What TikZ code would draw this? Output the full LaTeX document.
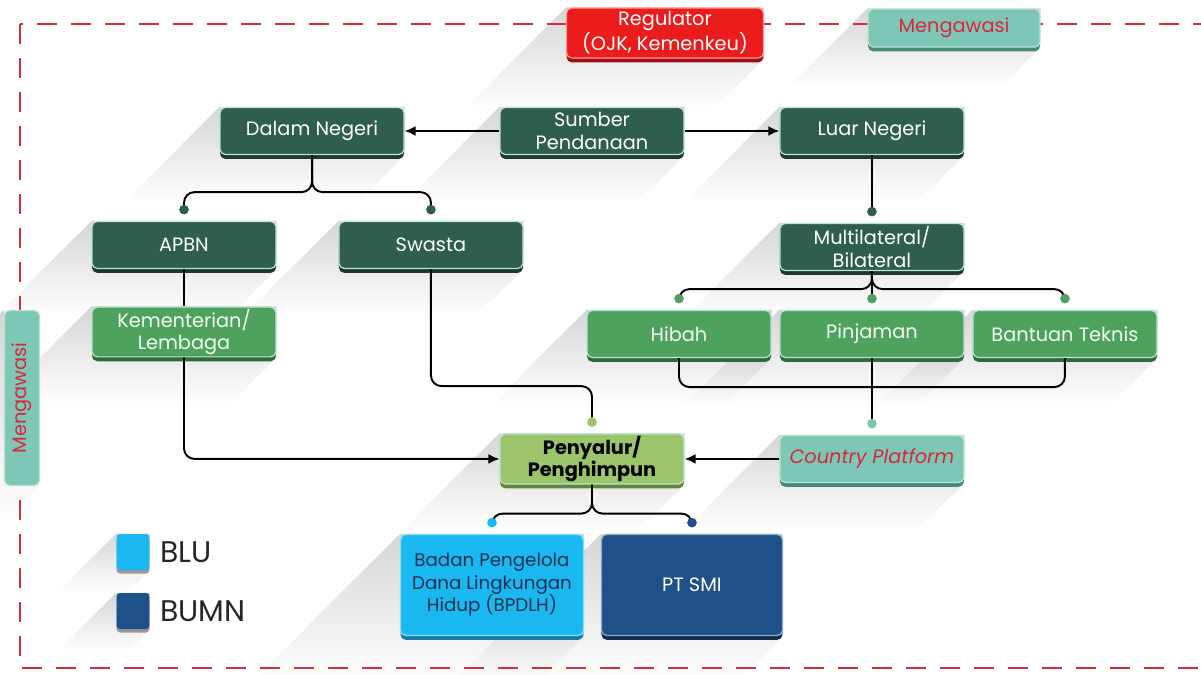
\documentclass[tikz,border=0pt]{standalone}
\usepackage{fontspec}
\setmainfont{Poppins}
\usetikzlibrary{arrows.meta,positioning,shadows,backgrounds,calc,fadings}

\definecolor{darkgreen}{HTML}{2F5E50}
\definecolor{darkgreenshade}{HTML}{1C3830}
\definecolor{midgreen}{HTML}{4FA15E}
\definecolor{midgreenshade}{HTML}{2E6A3A}
\definecolor{lightgreen}{HTML}{9CC46B}
\definecolor{lightgreenshade}{HTML}{5E8738}
\definecolor{tealbox}{HTML}{7EC6B6}
\definecolor{tealshade}{HTML}{4A8A7D}
\definecolor{redbox}{HTML}{EC1C1C}
\definecolor{redshade}{HTML}{A00E12}
\definecolor{redtext}{HTML}{D7263D}
\definecolor{blubox}{HTML}{1AB8F0}
\definecolor{blushade}{HTML}{127CA6}
\definecolor{bumnbox}{HTML}{1E5089}
\definecolor{bumnshade}{HTML}{112E52}
\definecolor{navytext}{HTML}{1B3050}
\definecolor{edge}{HTML}{B9E3D2}
\definecolor{dashred}{HTML}{D32F3A}

\begin{document}
\begin{tikzpicture}[
  x = 0.02cm, y = -0.02cm,
  node distance = 5.6cm,
  block/.style={rectangle, align=center, text centered, rounded corners=3pt, draw=edge, line width=0.7pt,
    minimum height = 0.94cm, minimum width = 3.68cm, inner sep=1pt, font=\fontsize{11}{13}\selectfont},
  block_dark/.style={block, fill=darkgreen, text=white,
    drop shadow={shadow xshift=0pt, shadow yshift=-2.5pt, fill=darkgreenshade, opacity=1}},
  block_green/.style={block, fill=midgreen, text=green!5,
    drop shadow={shadow xshift=0pt, shadow yshift=-2.5pt, fill=midgreenshade, opacity=1}},
  block_light/.style={block, fill=lightgreen, text=black, font=\fontsize{11}{13}\selectfont\bfseries,
    drop shadow={shadow xshift=0pt, shadow yshift=-2.5pt, fill=lightgreenshade, opacity=1}},
  watch_box/.style={block, fill=tealbox, text=redtext},
  block_teal/.style={watch_box,
    drop shadow={shadow xshift=0pt, shadow yshift=-2.5pt, fill=tealshade, opacity=1}},
  block_red/.style={block, fill=redbox, draw=red!40, text=white, minimum width=3.94cm, minimum height=1cm,
    drop shadow={shadow xshift=0pt, shadow yshift=-2.5pt, fill=redshade, opacity=1}},
  block_blu/.style={block, fill=blubox, draw=blubox!50, text=navytext, minimum width=3.66cm, minimum height=2.02cm,
    font=\fontsize{10.4}{12.8}\selectfont,
    drop shadow={shadow xshift=0pt, shadow yshift=-2.5pt, fill=blushade, opacity=1}},
  block_bumn/.style={block, fill=bumnbox, draw=bumnbox!50, text=white, minimum width=3.62cm, minimum height=2.02cm,
    drop shadow={shadow xshift=0pt, shadow yshift=-2.5pt, fill=bumnshade, opacity=1}},
  key/.style={rectangle, rounded corners=2pt, minimum width=0.66cm, minimum height=0.72cm, inner sep=0pt,
    drop shadow={shadow xshift=0pt, shadow yshift=-2pt, fill=black!40, opacity=1}},
  key_text/.style={inner sep=0pt, text=black!85, font=\fontsize{17}{20}\selectfont},
  long_shadow/.style={fill=black, fill opacity=0.16, path fading=south},
  line/.style={draw, line width=1.1pt, rounded corners=6pt},
  arrow/.style={line, -{Latex[length=0.22cm, width=0.2cm]}},
  dot/.style={line, -{Circle[length=0.19cm, color=#1]}, shorten >=0.13cm},
  border/.style={draw=dashred, line width=1.4pt, dash pattern=on 0.4cm off 0.28cm}
  ]

\useasboundingbox (0,0) rectangle (1201,674);
\path [border] (20,24) rectangle (1230,668);

\node [block_red] (regulator) at (665,33) {Regulator\\(OJK, Kemenkeu)};
\node [block_teal, minimum width=3.44cm, minimum height=0.76cm] (watch_top) at (954,28) {Mengawasi};
\node [watch_box, rotate=90, minimum width=3.5cm, minimum height=0.7cm] (watch_left) at (22,398) {Mengawasi};

\node [block_dark] (sumber) at (592,131) {Sumber\\Pendanaan};
\node [block_dark, left of=sumber] (dalam) {Dalam Negeri};
\node [block_dark, right of=sumber] (luar) {Luar Negeri};
\node [block_dark, below of=luar, node distance=2.32cm] (multi) {Multilateral/\\Bilateral};
\node [block_dark] (apbn) at (184,245) {APBN};
\node [block_dark, right of=apbn, node distance=4.94cm] (swasta) {Swasta};
\node [block_green, below of=apbn, node distance=1.74cm] (kementerian) {Kementerian/\\Lembaga};
\node [block_green, below of=multi, node distance=1.74cm] (pinjaman) {Pinjaman};
\node [block_green, left of=pinjaman, node distance=3.86cm] (hibah) {Hibah};
\node [block_green, right of=pinjaman, node distance=3.86cm] (bantuan) {Bantuan Teknis};
\node [block_teal, below of=pinjaman, node distance=2.5cm, font=\fontsize{11}{13}\selectfont\itshape] (country) {Country Platform};
\node [block_light, left of=country] (penyalur) {Penyalur/\\Penghimpun};
\node [block_blu] (bpdlh) at (492,585) {Badan Pengelola\\Dana Lingkungan\\Hidup (BPDLH)};
\node [block_bumn, right of=bpdlh, node distance=4cm] (ptsmi) {PT SMI};

% legend
\node [key, fill=blubox] (key_blu) at (133,552) {};
\node [key_text, right=0.2cm of key_blu] (blu_text) {BLU};
\node [key, fill=bumnbox] (key_bumn) at (133,611) {};
\node [key_text, right=0.2cm of key_bumn] (bumn_text) {BUMN};

% long shadows
\begin{scope}[on background layer]
\foreach \n/\l in {regulator/50, watch_top/40, sumber/48, dalam/48, luar/48, multi/48, apbn/47, swasta/47,
    kementerian/47, hibah/47, pinjaman/47, bantuan/47, country/47, penyalur/47, bpdlh/48, ptsmi/48,
    key_blu/22, key_bumn/22}
  \fill [long_shadow] (\n.north west) -- ($(\n.south west)!1!90:(\n.north west) + (-\l,\l)$)
    -- ([shift={(-\l,\l)}]\n.south east) -- (\n.south east) -- (\n.north east) -- cycle;
\fill [long_shadow] (watch_left.north east) -- ($(watch_left.north west)!1!90:(watch_left.north east) + (-40,40)$)
    -- ([shift={(-40,40)}]watch_left.south west) -- (watch_left.south west) -- cycle;
\end{scope}

\path [arrow] (sumber) -- (dalam);
\path [arrow] (sumber) -- (luar);
\path [dot=darkgreen] (dalam.south) -- ++(0,37) -| (apbn.north);
\path [dot=darkgreen] (dalam.south) -- ++(0,37) -| (swasta.north);
\path [dot=darkgreen] (luar) -- (multi);
\path [line] (apbn) -- (kementerian);
\path [dot=midgreen] (multi.south) -- ++(0,18) -| (hibah.north);
\path [dot=midgreen] (multi.south) -- ++(0,18) -| (bantuan.north);
\path [dot=midgreen] (multi) -- (pinjaman);
\path [line] (hibah.south) -- ++(0,29) -| (bantuan.south);
\path [dot=tealbox] (pinjaman) -- (country);
\path [arrow] (country) -- (penyalur);
\path [arrow] (kementerian.south) |- (penyalur.west);
\path [dot=lightgreen] (swasta.south) -- ++(0,117) -| (penyalur.north);
\path [dot=blubox] (penyalur.south) -- ++(0,29) -| (bpdlh.north);
\path [dot=bumnbox] (penyalur.south) -- ++(0,29) -| (ptsmi.north);
\end{tikzpicture}
\end{document}
